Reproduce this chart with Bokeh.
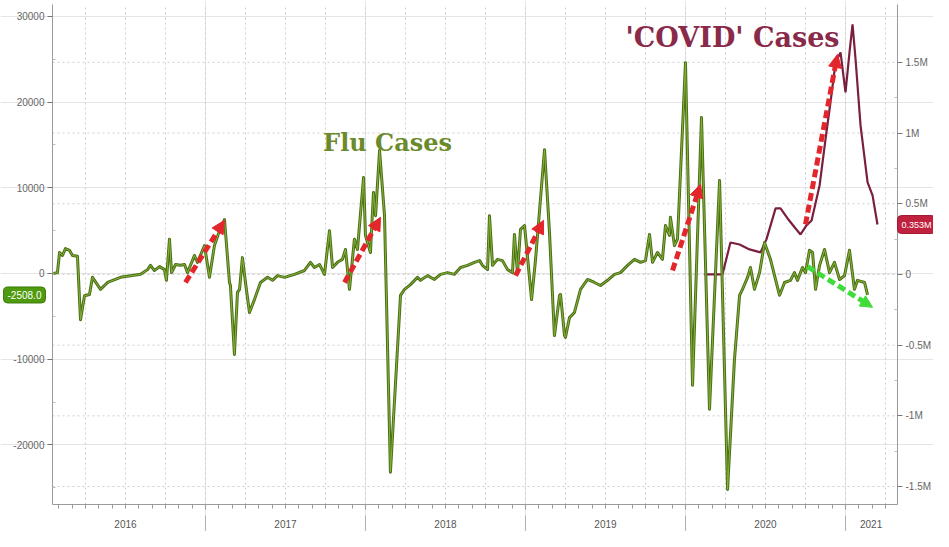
from bokeh.plotting import figure
from bokeh.models import LinearAxis, Range1d, FixedTicker, Arrow, NormalHead, Label
from bokeh.core.properties import value
from bokeh.embed import file_html
from bokeh.resources import INLINE

# ---- data (decimal years) ----
flu_x = [2016.050, 2016.075, 2016.088, 2016.106, 2016.125, 2016.150, 2016.169, 2016.200, 2016.219, 2016.244,
         2016.275, 2016.294, 2016.344, 2016.388, 2016.469, 2016.594, 2016.638, 2016.656, 2016.681, 2016.713,
         2016.744, 2016.756, 2016.775, 2016.788, 2016.813, 2016.844, 2016.869, 2016.888, 2016.931, 2016.950,
         2016.994, 2017.025, 2017.056, 2017.088, 2017.119, 2017.150, 2017.156, 2017.181, 2017.200, 2017.213,
         2017.231, 2017.250, 2017.275, 2017.306, 2017.344, 2017.388, 2017.419, 2017.450, 2017.494, 2017.556,
         2017.619, 2017.656, 2017.681, 2017.713, 2017.744, 2017.775, 2017.794, 2017.825, 2017.856, 2017.875,
         2017.900, 2017.931, 2017.950, 2017.988, 2018.000, 2018.031, 2018.050, 2018.063, 2018.088, 2018.119,
         2018.156, 2018.219, 2018.244, 2018.281, 2018.325, 2018.344, 2018.388, 2018.431, 2018.469, 2018.513,
         2018.556, 2018.594, 2018.638, 2018.681, 2018.713, 2018.731, 2018.763, 2018.775, 2018.794, 2018.825,
         2018.856, 2018.888, 2018.919, 2018.931, 2018.950, 2018.969, 2018.994, 2019.038, 2019.063, 2019.119,
         2019.150, 2019.181, 2019.213, 2019.219, 2019.244, 2019.250, 2019.275, 2019.306, 2019.344, 2019.388,
         2019.431, 2019.469, 2019.513, 2019.556, 2019.594, 2019.638, 2019.681, 2019.719, 2019.750, 2019.775,
         2019.794, 2019.825, 2019.856, 2019.875, 2019.900, 2019.906, 2019.931, 2019.950, 2020.000, 2020.044,
         2020.100, 2020.150, 2020.213, 2020.263, 2020.306, 2020.338, 2020.356, 2020.388, 2020.406, 2020.431,
         2020.463, 2020.494, 2020.531, 2020.588, 2020.619, 2020.656, 2020.681, 2020.700, 2020.731, 2020.750,
         2020.775, 2020.794, 2020.813, 2020.838, 2020.869, 2020.900, 2020.931, 2020.963, 2020.994, 2021.025,
         2021.056, 2021.075, 2021.119, 2021.138]
flu_y = [0, 100, 2450, 2100, 2900, 2700, 2100, 2000, -5400, -2600,
         -2450, -450, -1850, -1050, -450, -100, 450, 950, 350, 800,
         450, -800, 4000, 100, 1050, 950, 1050, 100, 2100, 1300,
         3250, -450, 3250, 5000, 6300, -1050, -1400, -9450, -2200, -1850,
         1850, -1050, -4550, -3050, -1050, -450, -800, -250, -450, -100,
         350, 1300, 700, 1050, -100, 5000, 700, 1300, 1650, 2800,
         -1850, 4000, 2800, 11200, 4450, 2450, 9450, 6750, 14350, 6750,
         -23200, -2550, -1850, -1300, -450, -800, -250, -700, -100, 100,
         -100, 700, 950, 1300, 1500, 950, 450, 6750, 950, 1650,
         1500, 450, 100, 4550, 100, 5150, 5600, -3050, 1650, 14450,
         4800, -7250, -2550, -2450, -7250, -7450, -5150, -4550, -1850, -700,
         -1050, -1400, -800, -100, 100, 950, 1650, 1300, 1500, 4550,
         1300, 2450, 1650, 5600, 4450, 6550, 3250, 4000, 24600, -13050,
         18200, -15850, 10850, -25200, -10050, -2550, -1850, -450, 700, -1850,
         100, 3600, 1650, -2550, -1050, -800, 100, -800, 700, 100,
         2700, 2450, -1850, 950, 2800, 100, 1300, -700, -250, 2700,
         -1850, -800, -1050, -2508]

covid_x = [2020.119, 2020.231, 2020.281, 2020.338, 2020.400, 2020.469, 2020.506, 2020.563, 2020.594, 2020.638,
           2020.688, 2020.719, 2020.756, 2020.788, 2020.838, 2020.875, 2020.906, 2020.938, 2020.969, 2021.000,
           2021.025, 2021.044, 2021.063, 2021.094, 2021.138, 2021.169, 2021.200]
covid_y = [0, 0, 226000, 212000, 177000, 156000, 248000, 467000, 467000, 396000,
           325000, 283000, 347000, 382000, 629000, 955000, 1216000, 1499000, 1570000, 1287000,
           1570000, 1768000, 1520000, 1054000, 651000, 559000, 353000]

left_ticks = [-20000, -10000, 0, 10000, 20000, 30000]
left_labels = ["-20000", "-10000", "0", "10000", "20000", "30000"]
left_minor = [-25000, -15000, -5000, 5000, 15000, 25000]
right_ticks = [-1500000, -1000000, -500000, 0, 500000, 1000000, 1500000]
right_labels = ["-1.5M", "-1M", "-0.5M", "0", "0.5M", "1M", "1.5M"]
right_minor = [-1250000, -750000, -250000, 250000, 750000, 1250000]
year_bounds = [2017, 2018, 2019, 2020, 2021]
year_labels = ["2016", "2017", "2018", "2019", "2020", "2021"]
year_label_x = [2016.5, 2017.5, 2018.5, 2019.5, 2020.5, 2021.16]
quarter_grid = [2016.25 + 0.25 * i for i in range(21)]
month_ticks = [2016 + m / 12 for m in range(1, 64)]

# annotation arrows: (x0, y0, x1, y1)
flu_arrows = [(2016.875, -1050, 2017.119, 6200),
              (2017.869, -1050, 2018.094, 6550),
              (2018.938, -250, 2019.113, 6200),
              (2019.919, 350, 2020.094, 10400)]
covid_arrow = (2020.750, 354000, 2020.950, 1556000)
flu_down_arrow = (2020.763, 800, 2021.169, -3950)

# plotted data window (the boxed area) and pixel scales
X0, X1 = 2016.044, 2021.325
Y0, Y1 = -26960, 31390
R0, R1 = -1627000, 1909000
W, H = 933, 531
PX = (X1 - X0) / 845.0
PY = (Y1 - Y0) / 500.0
PR = (R1 - R0) / 500.0
L_PAD, R_PAD, T_PAD, B_PAD = 52, 36, 4, 27

p = figure(width=W, height=H,
           x_range=Range1d(X0 - L_PAD * PX, X1 + R_PAD * PX),
           y_range=Range1d(Y0 - B_PAD * PY, Y1 + T_PAD * PY),
           output_backend="svg", toolbar_location=None,
           x_axis_location=None, y_axis_location=None, min_border=0)
p.background_fill_color = "white"
p.border_fill_color = "white"
p.outline_line_color = None
p.extra_y_ranges = {"right": Range1d(R0 - B_PAD * PR, R1 + T_PAD * PR)}

TICK_FONT = "Liberation Sans"
GRID = "#cfcfcf"

# grid lines, limited to the boxed area
p.segment(x0=quarter_grid, y0=[Y0] * len(quarter_grid), x1=quarter_grid, y1=[Y1] * len(quarter_grid),
          line_color=GRID, line_dash="2 3", line_width=1)
p.segment(x0=[X0] * len(right_ticks), y0=right_ticks, x1=[X1] * len(right_ticks), y1=right_ticks,
          y_range_name="right", line_color=GRID, line_dash="2 3", line_width=1)


def style_y(ax):
    ax.major_label_text_font = TICK_FONT
    ax.major_label_text_font_size = "10px"
    ax.major_label_text_color = "#666666"
    ax.axis_line_color = "#9a9a9a"
    ax.major_tick_line_color = "#777777"
    ax.minor_tick_line_color = "#bbbbbb"
    ax.major_tick_out = 5
    ax.major_tick_in = 0
    ax.minor_tick_out = 0
    ax.minor_tick_in = 3
    ax.major_label_standoff = 3


la = LinearAxis(fixed_location=X0, bounds=(Y0, Y1),
                ticker=FixedTicker(ticks=left_ticks, minor_ticks=left_minor))
la.major_label_overrides = {t: l for t, l in zip(left_ticks, left_labels)}
style_y(la)
p.add_layout(la, "left")

ra = LinearAxis(y_range_name="right", fixed_location=X1, bounds=(R0, R1),
                ticker=FixedTicker(ticks=right_ticks, minor_ticks=right_minor))
ra.major_label_overrides = {t: l for t, l in zip(right_ticks, right_labels)}
style_y(ra)
p.add_layout(ra, "right")

# bottom axis: small monthly ticks
xa = LinearAxis(fixed_location=Y0, bounds=(X0, X1),
                ticker=FixedTicker(ticks=year_bounds, minor_ticks=month_ticks))
xa.major_label_overrides = {t: "" for t in year_bounds}
xa.major_label_text_font_size = "1px"
xa.major_label_standoff = 0
xa.major_tick_out = 5
xa.major_tick_in = 0
xa.minor_tick_out = 4
xa.minor_tick_in = 0
xa.axis_line_color = "#9a9a9a"
xa.major_tick_line_color = "#999999"
xa.minor_tick_line_color = "#999999"
p.add_layout(xa, "below")

# year separators in the label row
p.segment(x0=year_bounds, y0=[Y0 - 11 * PY] * len(year_bounds),
          x1=year_bounds, y1=[Y0 - 27 * PY] * len(year_bounds),
          line_color="#b0b0b0", line_width=1)

# year labels
p.text(x=year_label_x, y=[Y0 - 19 * PY] * len(year_label_x), text=year_labels,
       text_align="center", text_baseline="middle", text_font=value(TICK_FONT),
       text_font_size="10px", text_color="#555555")

# series
p.line(covid_x, covid_y, y_range_name="right", line_color="#7a1f3f", line_width=2.2)
p.line(flu_x, flu_y, line_color="#4b6e17", line_width=3.0, line_join="round")
p.line(flu_x, flu_y, line_color="#86b437", line_width=1.0, line_join="round")

# arrows
RED = "#e3262c"
for (x0, y0, x1, y1) in flu_arrows:
    p.add_layout(Arrow(x_start=x0, y_start=y0, x_end=x1, y_end=y1,
                       line_color=RED, line_width=5, line_dash="8 4",
                       end=NormalHead(size=13, fill_color=RED, line_color=RED)))
p.add_layout(Arrow(x_start=covid_arrow[0], y_start=covid_arrow[1], x_end=covid_arrow[2], y_end=covid_arrow[3],
                   y_range_name="right", line_color=RED, line_width=5, line_dash="8 4",
                   end=NormalHead(size=13, fill_color=RED, line_color=RED)))
GREEN = "#3fdc3a"
p.add_layout(Arrow(x_start=flu_down_arrow[0], y_start=flu_down_arrow[1], x_end=flu_down_arrow[2], y_end=flu_down_arrow[3],
                   line_color=GREEN, line_width=5, line_dash="8 4",
                   end=NormalHead(size=12, fill_color=GREEN, line_color=GREEN)))

# titles
p.add_layout(Label(x=2018.138, y=15300, text="Flu Cases", text_align="center", text_baseline="middle",
                   text_font="DejaVu Serif", text_font_style="bold", text_font_size="24px",
                   text_color="#6b8a2c"))
p.add_layout(Label(x=2020.294, y=1676000, y_range_name="right", text="'COVID' Cases",
                   text_align="center", text_baseline="middle",
                   text_font="DejaVu Serif", text_font_style="bold", text_font_size="27px",
                   text_color="#8a2a4a"))

# last-value tags
p.add_layout(Label(x=X0 - 28 * PX, y=flu_y[-1], text="%.1f" % flu_y[-1],
                   text_align="center", text_baseline="middle", text_font=TICK_FONT,
                   text_font_size="10px", text_color="white", background_fill_color="#4f9a0e",
                   border_line_color="#3d7d08", padding=4, border_radius=4))
p.add_layout(Label(x=X1 + 19 * PX, y=covid_y[-1], y_range_name="right",
                   text="%.3fM" % (covid_y[-1] / 1e6), text_align="center", text_baseline="middle",
                   text_font=TICK_FONT, text_font_size="9px", text_color="white",
                   background_fill_color="#c0213e", border_line_color="#a01830", padding=4,
                   border_radius=4))

open("out.html", "w").write(file_html(p, INLINE))
